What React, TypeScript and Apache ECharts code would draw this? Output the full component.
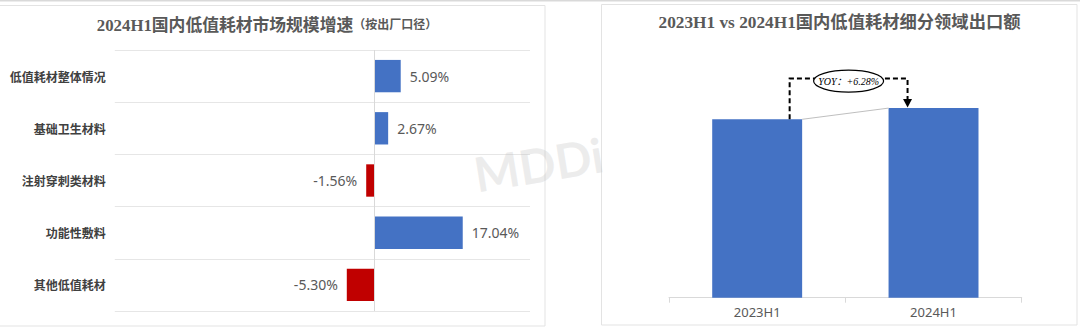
import { useEffect, useRef } from 'react';
import * as echarts from 'echarts';

// Left panel: 2024H1 growth rate by segment (%)
const growthCategories = ['低值耗材整体情况', '基础卫生材料', '注射穿刺类材料', '功能性敷料', '其他低值耗材'];
const growthRates = [5.09, 2.67, -1.56, 17.04, -5.3];

// Right panel: export amount, indexed to 2023H1 = 100
const exportPeriods = ['2023H1', '2024H1'];
const exportIndex = [100, 106.28];
const yoyGrowth = 6.28;

const BLUE = '#4472C4';
const RED = '#C00000';
const SERIF = "'Liberation Serif', 'Noto Sans CJK SC', serif";
const SANS = "'Noto Sans', 'Noto Sans CJK SC', sans-serif";
const BAR_RATIO = 0.51;

function renderYoy(params: any, api: any) {
  const a = api.coord([0, exportIndex[0]]);
  const b = api.coord([1, exportIndex[1]]);
  const band = api.size([1, 0])[0];
  const hw = (band * BAR_RATIO) / 2;
  const xL = a[0] + hw - 12.5;
  const xR = b[0] - hw + 19;
  const topY = b[1] - 29.5;
  const cx = (xL + xR) / 2;
  const cy = topY + 2.5;
  return {
    type: 'group',
    children: [
      {
        type: 'line',
        shape: { x1: a[0] + hw, y1: a[1], x2: b[0] - hw, y2: b[1] },
        style: { stroke: '#bfbfbf', lineWidth: 1 },
      },
      {
        type: 'polyline',
        shape: { points: [[xL, a[1]], [xL, topY], [xR, topY], [xR, b[1] - 8]] },
        style: { stroke: '#000', lineWidth: 2, lineDash: [5, 3], fill: null },
      },
      {
        type: 'polygon',
        shape: { points: [[xR - 4.5, b[1] - 9], [xR + 4.5, b[1] - 9], [xR, b[1] - 0.5]] },
        style: { fill: '#000' },
      },
      {
        type: 'ellipse',
        shape: { cx, cy, rx: 35, ry: 11 },
        style: { fill: '#fff', stroke: '#000', lineWidth: 1.2 },
      },
      {
        type: 'text',
        style: {
          text: `YOY：+${yoyGrowth.toFixed(2)}%`,
          x: cx,
          y: cy,
          align: 'center',
          verticalAlign: 'middle',
          fontSize: 10,
          fontStyle: 'italic',
          fontFamily: SERIF,
          fill: '#000',
        },
      },
    ],
  };
}

const option: any = {
  animation: false,
  backgroundColor: '#fff',
  graphic: [
    { type: 'rect', z: 0, shape: { x: 0, y: 0, width: 1080, height: 1.5 }, style: { fill: '#d9d9d9' } },
    {
      type: 'rect',
      z: 0,
      shape: { x: -1.5, y: 5.5, width: 546.5, height: 320.5 },
      style: { fill: '#fff', stroke: '#e3e3e3', lineWidth: 1 },
    },
    {
      type: 'rect',
      z: 0,
      shape: { x: 601.5, y: 4.5, width: 475.5, height: 320.5 },
      style: { fill: '#fff', stroke: '#e3e3e3', lineWidth: 1 },
    },
    {
      type: 'text',
      z: 1,
      x: 267,
      y: 25,
      style: {
        text: '{a|2024H1国内低值耗材市场规模增速}{b|（按出厂口径）}',
        align: 'center',
        verticalAlign: 'middle',
        rich: {
          a: { fontSize: 16.8, fontWeight: 'bold', fontFamily: SERIF, fill: '#595959', color: '#595959' },
          b: { fontSize: 12, fontWeight: 'bold', fontFamily: SERIF, fill: '#595959', color: '#595959' },
        },
      },
    },
    {
      type: 'text',
      z: 1,
      x: 839.5,
      y: 22,
      style: {
        text: '2023H1 vs 2024H1国内低值耗材细分领域出口额',
        align: 'center',
        verticalAlign: 'middle',
        fontSize: 17.3,
        fontWeight: 'bold',
        fontFamily: SERIF,
        fill: '#595959',
      },
    },
    {
      type: 'text',
      z: 100,
      x: 538.5,
      y: 164,
      rotation: 0.16,
      style: {
        text: 'MDDi',
        align: 'center',
        verticalAlign: 'middle',
        fontSize: 48,
        fontWeight: 'bold',
        fontFamily: 'Lato, sans-serif',
        fill: 'rgba(190,190,190,0.28)',
      },
    },
  ],
  grid: [
    { left: 114.8, top: 50, width: 415.2, height: 261 },
    { left: 669, top: 30.1, width: 352.7, height: 267.6 },
  ],
  xAxis: [
    {
      gridIndex: 0,
      type: 'value',
      min: -50,
      max: 30,
      axisLine: { show: false },
      axisTick: { show: false },
      axisLabel: { show: false },
      splitLine: { show: false },
    },
    {
      gridIndex: 1,
      type: 'category',
      data: exportPeriods,
      axisLine: { lineStyle: { color: '#d9d9d9', width: 1 } },
      axisTick: { show: true, length: 5, lineStyle: { color: '#d9d9d9' } },
      axisLabel: { color: '#595959', fontSize: 13, fontFamily: SANS, margin: 8 },
    },
  ],
  yAxis: [
    {
      gridIndex: 0,
      type: 'category',
      inverse: true,
      data: growthCategories,
      axisLine: { show: false },
      axisTick: { show: false },
      axisLabel: {
        color: '#404040',
        fontSize: 12,
        fontWeight: 'bold',
        fontFamily: "'Noto Sans CJK SC', sans-serif",
        margin: 9,
      },
      splitLine: { show: true, lineStyle: { color: '#e6e6e6', width: 1 } },
    },
    {
      gridIndex: 1,
      type: 'value',
      min: 0,
      max: 150,
      show: false,
      splitLine: { show: false },
    },
  ],
  series: [
    {
      type: 'bar',
      xAxisIndex: 0,
      yAxisIndex: 0,
      barCategoryGap: '38%',
      data: growthRates.map((v) => ({
        value: v,
        itemStyle: { color: v >= 0 ? BLUE : RED },
        label: { position: v >= 0 ? 'right' : 'left' },
      })),
      label: {
        show: true,
        distance: 9,
        color: '#595959',
        fontSize: 14,
        fontFamily: SANS,
        formatter: (p: any) => `${Number(p.value).toFixed(2)}%`,
      },
      markLine: {
        silent: true,
        symbol: ['none', 'none'],
        label: { show: false },
        lineStyle: { color: '#d9d9d9', type: 'solid', width: 1 },
        data: [{ xAxis: 0 }],
      },
    },
    {
      type: 'bar',
      xAxisIndex: 1,
      yAxisIndex: 1,
      barWidth: `${BAR_RATIO * 100}%`,
      itemStyle: { color: BLUE },
      data: exportIndex,
    },
    {
      type: 'custom',
      xAxisIndex: 1,
      yAxisIndex: 1,
      z: 5,
      clip: false,
      silent: true,
      data: [[0, exportIndex[0]]],
      renderItem: renderYoy,
    },
  ],
};

export default function App() {
  const ref = useRef<HTMLDivElement>(null);
  useEffect(() => {
    const chart = echarts.init(ref.current!, null, { renderer: 'svg' });
    chart.setOption(option);
    return () => chart.dispose();
  }, []);
  return (
    <div
      ref={ref}
      style={{ position: 'fixed', left: 0, top: 0, width: 1080, height: 330, background: '#fff' }}
    />
  );
}
